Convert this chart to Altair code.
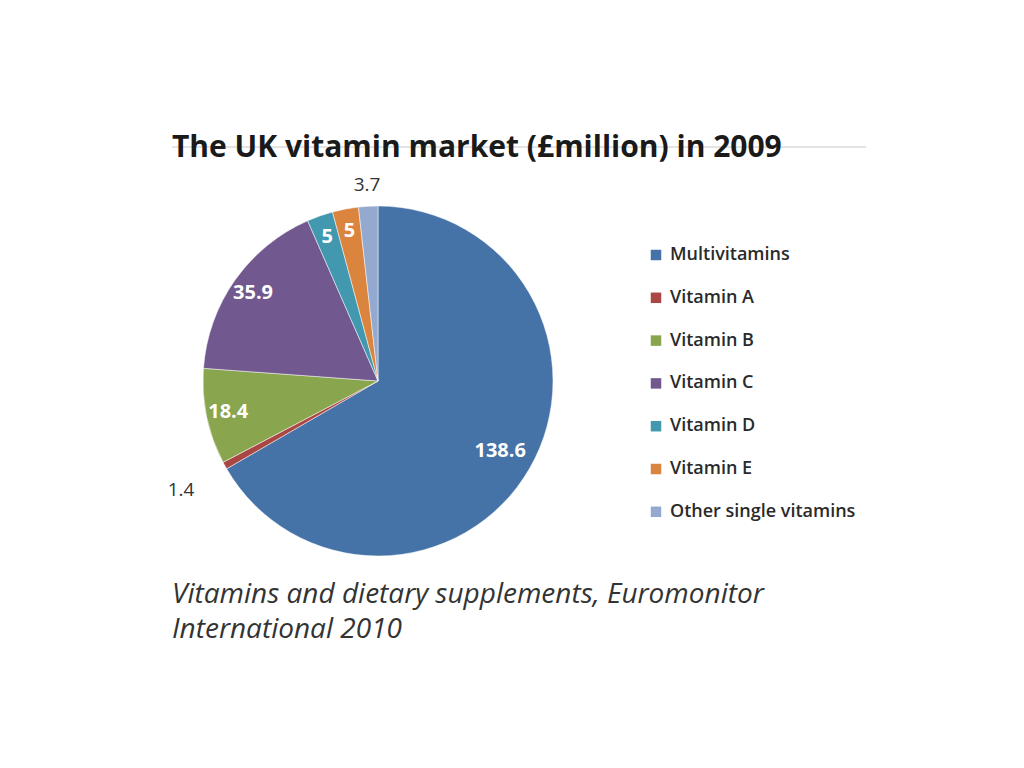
import altair as alt
import pandas as pd

categories = ["Multivitamins", "Vitamin A", "Vitamin B", "Vitamin C",
              "Vitamin D", "Vitamin E", "Other single vitamins"]
values = [138.6, 1.4, 18.4, 35.9, 5, 5, 3.7]
colors = ["#4572A7", "#AA4643", "#89A54E", "#71588F", "#4198AF", "#DB843D", "#93A9CF"]

title_text = "The UK vitamin market (£million) in 2009"
caption_lines = ["Vitamins and dietary supplements, Euromonitor", "International 2010"]

df = pd.DataFrame({"category": categories, "value": values, "idx": list(range(len(categories)))})

base = alt.Chart(df).transform_calculate(label="toString(datum.value)")

theta = alt.Theta("value:Q", stack=True)
order = alt.Order("idx:Q", sort="ascending")

pie = base.mark_arc(outerRadius=175, stroke="white", strokeWidth=0.5).encode(
    theta=theta,
    order=order,
    color=alt.Color(
        "category:N",
        sort=categories,
        scale=alt.Scale(domain=categories, range=colors),
        legend=alt.Legend(
            title=None, orient="none", legendX=444, legendY=40,
            symbolType="square", symbolSize=110, symbolStrokeWidth=0,
            labelFont="Open Sans", labelFontSize=18, labelFontWeight=600,
            labelColor="#2a2a2a", labelLimit=0,
            rowPadding=24.8, labelOffset=5, padding=0,
        ),
    ),
)


def value_labels(test, radius, size, weight, color):
    return base.mark_text(radius=radius, font="Open Sans", fontSize=size,
                          fontWeight=weight, color=color).encode(
        theta=theta,
        order=order,
        text=alt.condition(test, alt.Text("label:N"), alt.value("")),
    )


inside_big = value_labels("datum.category == 'Multivitamins'", 141, 20, "bold", "white")
inside = value_labels("datum.value >= 4 && datum.category != 'Multivitamins'", 153, 20, "bold", "white")
outside_top = value_labels("datum.category == 'Other single vitamins'", 196, 19, "normal", "#333333")
outside_low = value_labels("datum.category == 'Vitamin A'", 225, 19, "normal", "#333333")

rule = alt.Chart(pd.DataFrame({"k": [0]})).mark_rule(color="#c8c8c8", strokeWidth=1).encode(
    x=alt.value(-31), x2=alt.value(663), y=alt.value(-59)
)

caption = alt.Chart(pd.DataFrame({"t": ["\n".join(caption_lines)]})).mark_text(
    align="left", baseline="alphabetic", font="Open Sans", fontSize=28,
    fontStyle="italic", color="#333333", lineBreak="\n", lineHeight=35,
).encode(text="t:N", x=alt.value(-31), y=alt.value(397))

chart = alt.layer(rule, pie, inside_big, inside, outside_top, outside_low, caption).properties(
    width=350, height=350,
    title=alt.Title(title_text, anchor="start", frame="group", dx=-31, offset=-40,
                    baseline="alphabetic",
                    font="Open Sans", fontSize=30, fontWeight="bold", color="#1a1a1a"),
    autosize=alt.AutoSizeParams(type="none"),
    padding={"left": 195, "top": 198, "right": 450, "bottom": 200},
).configure_view(stroke=None)

chart.save("out.html", embed_options={"renderer": "svg", "actions": False})
